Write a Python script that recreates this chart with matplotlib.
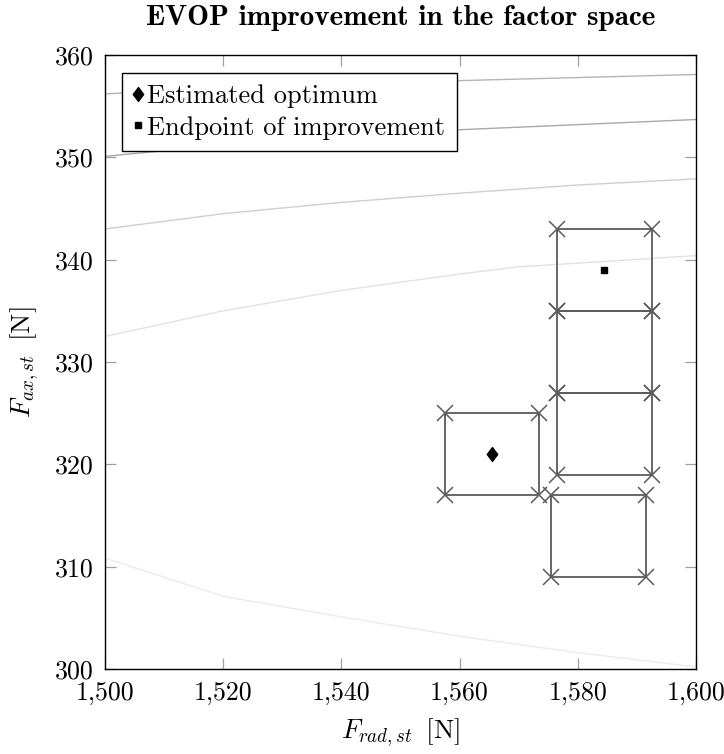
import matplotlib
matplotlib.use("Agg")
import matplotlib.pyplot as plt
from matplotlib.ticker import FuncFormatter, MultipleLocator
from matplotlib.path import Path

plt.rcParams["font.family"] = ["cmr10", "DejaVu Serif"]
plt.rcParams["mathtext.fontset"] = "cm"
plt.rcParams["axes.formatter.use_mathtext"] = True

# Contour lines of the response surface (F_rad, F_ax)
contour_x = [1500, 1520, 1540, 1560, 1580, 1600]
contour_1 = [356.2, 356.8, 357.2, 357.5, 357.8, 358.1]
contour_2 = [350.1, 351.2, 352.0, 352.7, 353.2, 353.7]
contour_3 = [343.0, 344.5, 345.6, 346.5, 347.3, 347.9]
contour_4_x = [1500, 1520, 1540, 1560, 1570, 1600]
contour_4 = [332.5, 335.0, 337.0, 338.6, 339.3, 340.4]
contour_5 = [310.85, 307.1, 305.1, 303.2, 301.6, 300.2]

# EVOP cycles: centre points of each 2^2 design and the half-steps
cycle_x = [1565.5, 1583.5, 1584.5, 1584.5, 1584.5]
cycle_y = [321, 313, 323, 331, 339]
step_x = 8
step_y = 4

optimum = (1565.5, 321)
endpoint = (1584.5, 339)

fig = plt.figure(figsize=(7.24, 7.54), dpi=100)
ax = fig.add_axes([0.145, 0.1127, 0.8163, 0.8143])

ax.plot(contour_x, contour_1, color="#b4b4b4", lw=1.0, zorder=1)
ax.plot(contour_x, contour_2, color="#a8a8a8", lw=1.0, zorder=1)
ax.plot(contour_x, contour_3, color="#cfcfcf", lw=1.0, zorder=1)
ax.plot(contour_4_x, contour_4, color="#e2e2e2", lw=1.0, zorder=1)
ax.plot(contour_x, contour_5, color="#ebebeb", lw=1.0, zorder=1)

for cx, cy in zip(cycle_x, cycle_y):
    xs = [cx - step_x, cx + step_x, cx + step_x, cx - step_x, cx - step_x]
    ys = [cy + step_y, cy + step_y, cy - step_y, cy - step_y, cy + step_y]
    ax.plot(xs, ys, color="#5c5c5c", lw=1.3, zorder=2)
    ax.plot(xs[:4], ys[:4], ls="none", marker="x", ms=11, mew=1.1,
            color="#5c5c5c", zorder=3)

diamond = Path([(0, 1), (0.75, 0), (0, -1), (-0.75, 0), (0, 1)],
               [Path.MOVETO, Path.LINETO, Path.LINETO, Path.LINETO, Path.CLOSEPOLY])
ax.plot([optimum[0]], [optimum[1]], ls="none", marker=diamond, ms=10,
        color="black", label="Estimated optimum", zorder=4)
ax.plot([endpoint[0]], [endpoint[1]], ls="none", marker="s", ms=5,
        color="black", label="Endpoint of improvement", zorder=4)

ax.set_xlim(1500, 1600)
ax.set_ylim(300, 360)
ax.xaxis.set_major_locator(MultipleLocator(20))
ax.yaxis.set_major_locator(MultipleLocator(10))
ax.xaxis.set_major_formatter(FuncFormatter(lambda v, p: f"{v:,.0f}"))
ax.yaxis.set_major_formatter(FuncFormatter(lambda v, p: f"{v:.0f}"))
ax.tick_params(direction="in", length=8, width=0.9, color="#a0a0a0",
               top=True, right=True, labelsize=18.6)
ax.tick_params(axis="x", pad=8.5)
ax.tick_params(axis="y", pad=8)
for s in ax.spines.values():
    s.set_linewidth(1.0)
    s.set_color("black")

ax.set_xlabel(r"$F_{rad,st}\,$ [N]", fontsize=19.5, labelpad=9)
ax.set_ylabel(r"$F_{ax,st}\,$ [N]", fontsize=19.5, labelpad=10)
fig.text(0.553, 0.976, "EVOP improvement in the factor space",
         family="cmb10", fontsize=21, ha="center", va="center")

leg = ax.legend(loc="upper left", bbox_to_anchor=(0.029, 0.971),
                borderaxespad=0, fontsize=19, handlelength=0.3,
                handletextpad=0.2, borderpad=0.45, labelspacing=0.28,
                fancybox=False, framealpha=1, edgecolor="black")
leg.get_frame().set_linewidth(1.0)

fig.savefig("out.png", dpi=100)
